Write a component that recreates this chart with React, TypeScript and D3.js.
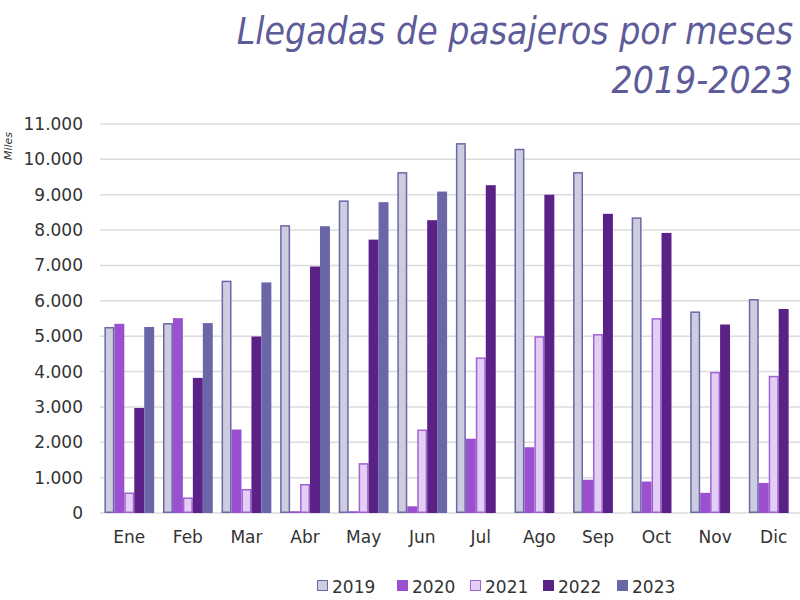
import React, { useEffect, useRef } from 'react';
import * as d3 from 'd3';

const MONTHS = ['Ene', 'Feb', 'Mar', 'Abr', 'May', 'Jun', 'Jul', 'Ago', 'Sep', 'Oct', 'Nov', 'Dic'];
const YEARS = ['2019', '2020', '2021', '2022', '2023'];

// thousands of passengers (miles)
const V2019 = [5260, 5370, 6570, 8140, 8840, 9640, 10460, 10300, 9640, 8360, 5700, 6050];
const V2020 = [5350, 5510, 2360, 50, 50, 190, 2100, 1860, 940, 890, 570, 850];
const V2021 = [580, 440, 680, 820, 1410, 2360, 4400, 5000, 5060, 5510, 3990, 3880];
const V2022 = [2970, 3820, 4990, 6970, 7730, 8280, 9270, 9000, 8460, 7920, 5330, 5770];
const V2023 = [5260, 5370, 6520, 8110, 8790, 9090, null, null, null, null, null, null];

const SERIES: (number | null)[][] = [V2019, V2020, V2021, V2022, V2023];
const Y_TICKS = [0, 1000, 2000, 3000, 4000, 5000, 6000, 7000, 8000, 9000, 10000, 11000];

const FILLS = ['#cdcde2', '#9a50cf', '#e4cff4', '#5a2186', '#6a66a8'];
const STROKES = ['#6c68a6', '#9a50cf', '#a262d6', '#5a2186', '#6a66a8'];

const fmt = (d: number) => (d === 0 ? '0' : d3.format(',')(d).replace(/,/g, '.'));

export default function App() {
  const svgRef = useRef<SVGSVGElement>(null);

  useEffect(() => {
    if (!svgRef.current) return;
    const width = 800;
    const height = 600;
    const svg = d3.select(svgRef.current);
    svg.selectAll('*').remove();
    svg.attr('width', width).attr('height', height);
    const font = '"DejaVu Sans", Verdana, sans-serif';

    const x0 = d3.scaleBand().domain(MONTHS).range([100, 803]).paddingInner(0.15).paddingOuter(0.075);
    const x1 = d3.scaleBand().domain(YEARS).range([0, x0.bandwidth()]).padding(0);
    const y = d3.scaleLinear().domain([0, 11000]).range([513, 124]);

    // title
    const title = svg.append('text')
      .attr('text-anchor', 'end')
      .attr('fill', '#5d5b99')
      .attr('font-family', '"DejaVu Sans Condensed", "DejaVu Sans", sans-serif')
      .attr('font-stretch', 'condensed')
      .attr('font-style', 'italic')
      .attr('font-size', '37px');
    title.append('tspan').attr('x', 793).attr('y', 44).text('Llegadas de pasajeros por meses');
    title.append('tspan').attr('x', 793).attr('y', 93).text('2019-2023');

    // grid
    svg.append('g')
      .selectAll('line')
      .data(Y_TICKS)
      .join('line')
      .attr('x1', 100)
      .attr('x2', 800)
      .attr('y1', (d) => y(d))
      .attr('y2', (d) => y(d))
      .attr('stroke', '#dcdcdc')
      .attr('stroke-width', 1.5);

    svg.append('g')
      .selectAll('text')
      .data(Y_TICKS)
      .join('text')
      .attr('x', 83)
      .attr('y', (d) => y(d) + 6)
      .attr('text-anchor', 'end')
      .attr('fill', '#333')
      .attr('font-family', font)
      .attr('font-size', '17px')
      .text((d) => fmt(d));

    svg.append('text')
      .attr('transform', 'translate(12,146) rotate(-90)')
      .attr('text-anchor', 'middle')
      .attr('fill', '#333')
      .attr('font-family', font)
      .attr('font-style', 'italic')
      .attr('font-size', '11px')
      .text('Miles');

    // bars
    MONTHS.forEach((m, i) => {
      const xb = x0(m) ?? 0;
      YEARS.forEach((yr, j) => {
        const v = SERIES[j][i];
        if (v == null) return;
        const stroked = j === 0 || j === 2;
        const sw = stroked ? 1.5 : 0;
        svg.append('rect')
          .attr('x', xb + (x1(yr) ?? 0) + sw / 2)
          .attr('y', y(v) + sw / 2)
          .attr('width', x1.bandwidth() - sw)
          .attr('height', Math.max(0, y(0) - y(v) - sw))
          .attr('fill', FILLS[j])
          .attr('stroke', stroked ? STROKES[j] : 'none')
          .attr('stroke-width', sw);
      });
    });

    // x labels
    svg.append('g')
      .selectAll('text')
      .data(MONTHS)
      .join('text')
      .attr('x', (d) => (x0(d) ?? 0) + x0.bandwidth() / 2)
      .attr('y', 543)
      .attr('text-anchor', 'middle')
      .attr('fill', '#333')
      .attr('font-family', font)
      .attr('font-size', '17px')
      .text((d) => d);

    // legend
    const lx = [317, 397, 470, 543, 617];
    YEARS.forEach((yr, j) => {
      const g = svg.append('g').attr('transform', `translate(${lx[j]},580)`);
      g.append('rect')
        .attr('x', 0.5)
        .attr('y', 0.5)
        .attr('width', 10)
        .attr('height', 10)
        .attr('fill', FILLS[j])
        .attr('stroke', STROKES[j])
        .attr('stroke-width', 1);
      g.append('text')
        .attr('x', 15)
        .attr('y', 13)
        .attr('fill', '#333')
        .attr('font-family', font)
        .attr('font-size', '17px')
        .text(yr);
    });
  }, []);

  return <svg ref={svgRef} style={{ position: 'absolute', left: 0, top: 0, background: '#fff' }} />;
}
